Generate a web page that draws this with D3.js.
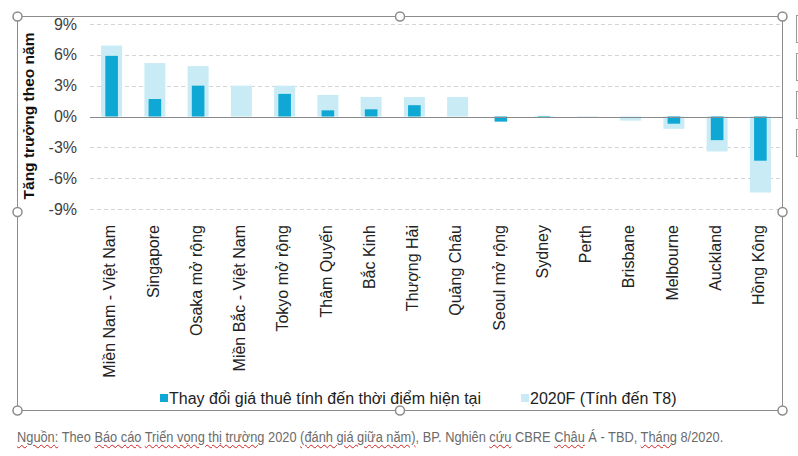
<!DOCTYPE html>
<html><head><meta charset="utf-8">
<script src="https://cdn.jsdelivr.net/npm/d3@7/dist/d3.min.js"></script>
<style>
body{margin:0;background:#fff;width:798px;height:456px;overflow:hidden;position:relative;font-family:"Liberation Sans",Arial,sans-serif;}
#src{position:absolute;left:17px;top:429px;font-family:"Liberation Sans",Arial,sans-serif;font-size:14px;color:#6b6b6b;white-space:nowrap;transform:scaleX(0.915);transform-origin:0 0;}
#src .w{text-decoration:underline wavy #d02020;text-decoration-thickness:1px;text-underline-offset:2px;}
</style></head>
<body>
<svg id="chart" width="798" height="456" style="position:absolute;left:0;top:0"></svg>
<div id="src"></div>
<script>
const categories = ["Miền Nam - Việt Nam","Singapore","Osaka mở rộng","Miền Bắc - Việt Nam","Tokyo mở rộng","Thâm Quyến","Bắc Kinh","Thượng Hải","Quảng Châu","Seoul mở rộng","Sydney","Perth","Brisbane","Melbourne","Auckland","Hồng Kông"];
const currentChange = [5.9,1.7,3.0,0,2.2,0.6,0.7,1.1,0,-0.5,-0.1,0,0,-0.7,-2.3,-4.3];
const forecast2020 = [6.9,5.2,4.9,3.0,3.0,2.1,1.9,1.9,1.9,0,-0.1,-0.1,-0.4,-1.2,-3.4,-7.4];
const yTicks = [-9,-6,-3,0,3,6,9];
const seriesNames = ["Thay đổi giá thuê tính đến thời điểm hiện tại","2020F (Tính đến T8)"];
const yTitle = "Tăng trưởng theo năm";
const sourceParts = [["Nguồn:",1],[" Theo ",0],["Báo cáo",1],[" ",0],["Triển vọng thị trường",1],[" 2020 ",0],["(đánh giá giữa năm)",1],[", BP. Nghiên ",0],["cứu",1],[" CBRE ",0],["Châu",1],[" Á - TBD, ",0],["Tháng",1],[" 8/2020.",0]];

const darkC = "#0fa8d5", lightC = "#c9ebf5";
const svg = d3.select("#chart");

const x = d3.scaleBand().domain(categories).range([90,782]).padding(0);
const y = d3.scaleLinear().domain([-9,9]).range([209,24]);
const bw = x.bandwidth();

// frame
svg.append("rect").attr("x",17.5).attr("y",16.5).attr("width",765).attr("height",394)
  .attr("fill","none").attr("stroke","#8c8c8c").attr("stroke-width",1);

// grid
svg.append("g").selectAll("line").data(yTicks.filter(d=>d!==0)).join("line")
  .attr("x1",90).attr("x2",780).attr("y1",d=>Math.round(y(d))+0.5).attr("y2",d=>Math.round(y(d))+0.5)
  .attr("stroke","#d4d4d4").attr("stroke-dasharray","4,3");

// y tick labels
const yAxis = d3.axisLeft(y).tickValues(yTicks).tickFormat(d=>d+"%").tickSize(0).tickPadding(0);
const ga = svg.append("g").attr("transform","translate(77,0)").call(yAxis);
ga.select(".domain").remove();
ga.selectAll("text").attr("font-size","16px").attr("fill","#404040").attr("font-family","Liberation Sans, Arial, sans-serif");

// bars
svg.append("g").selectAll("rect").data(forecast2020).join("rect")
  .attr("x",(d,i)=>x(categories[i])+bw/2-10.5).attr("width",21)
  .attr("y",d=>Math.min(y(d),y(0))).attr("height",d=>Math.abs(y(d)-y(0)))
  .attr("fill",lightC);
svg.append("g").selectAll("rect").data(currentChange).join("rect")
  .attr("x",(d,i)=>x(categories[i])+bw/2-6.3).attr("width",12.6)
  .attr("y",d=>Math.min(y(d),y(0))).attr("height",d=>Math.abs(y(d)-y(0)))
  .attr("fill",darkC);

// zero line
svg.append("line").attr("x1",90).attr("x2",782).attr("y1",Math.round(y(0))+0.5).attr("y2",Math.round(y(0))+0.5)
  .attr("stroke","#8a8a8a").attr("stroke-width",1.2);

// category labels
const xAxis = d3.axisBottom(x).tickSize(0).tickPadding(0);
const gx = svg.append("g").attr("transform","translate(0,224)").call(xAxis);
gx.select(".domain").remove();
gx.selectAll("text").attr("font-size","16px").attr("fill","#222").attr("font-family","Liberation Sans, Arial, sans-serif")
  .attr("transform","rotate(-90)").attr("text-anchor","end").attr("dy","0.3em").attr("y",-1).attr("x",-1);

// y title
svg.append("text").attr("transform","translate(34,116) rotate(-90)").attr("text-anchor","middle")
  .attr("font-size","15.5px").attr("font-weight","bold").attr("fill","#111").text(yTitle);

// legend
const leg = [[160,darkC,169,seriesNames[0]],[521,lightC,530,seriesNames[1]]];
leg.forEach((l)=>{
  svg.append("rect").attr("x",l[0]).attr("y",394).attr("width",8).attr("height",8).attr("fill",l[1]);
  svg.append("text").attr("x",l[2]).attr("y",404).attr("font-size","16px").attr("fill","#222").text(l[3]);
});

// handles
const hx=[17.5,400,782.5], hy=[16.5,212,410.5];
const handles=[];
hx.forEach(a=>hy.forEach(b=>{ if(!(a===400&&b===212)) handles.push([a,b]); }));
svg.append("g").selectAll("circle").data(handles).join("circle")
  .attr("cx",d=>d[0]).attr("cy",d=>d[1]).attr("r",4.5)
  .attr("fill","#fff").attr("stroke","#8c8c8c").attr("stroke-width",1.5);

// side buttons (partially visible)
[15,53,91,129].forEach(t=>{
  svg.append("rect").attr("x",796.5).attr("y",t+0.5).attr("width",20).attr("height",27)
    .attr("fill","#fff").attr("stroke","#9a9a9a");
});

// source
const src = d3.select("#src");
sourceParts.forEach(p=>{ src.append("span").attr("class",p[1]?"w":null).text(p[0]); });
</script>
</body></html>
